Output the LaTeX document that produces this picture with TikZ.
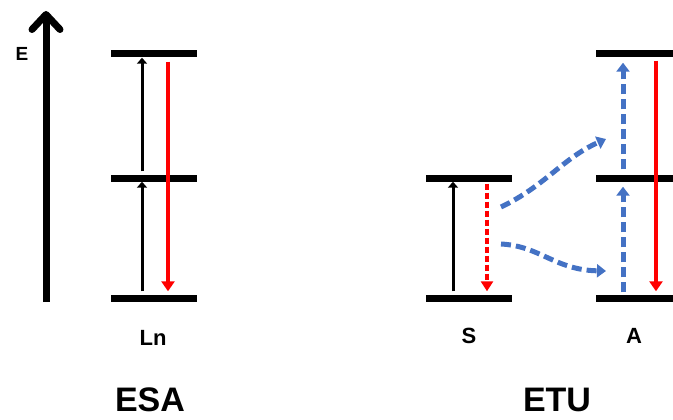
\documentclass[tikz,border=0pt]{standalone}
\usepackage{fontspec}
\setmainfont{Liberation Sans}
\usetikzlibrary{arrows.meta}
\definecolor{etublue}{RGB}{68,114,196}

\begin{document}
\begin{tikzpicture}[x=1pt,y=-1pt,
  level/.style={fill=black,inner sep=0pt,minimum width=86pt,minimum height=7pt},
  pump/.style={line width=3pt,-{Triangle[length=6pt,width=10pt]}},
  emit/.style={red,line width=4.5pt,-{Triangle[length=10pt,width=13pt]}},
  relax/.style={red,line width=3.5pt,dash pattern=on 6pt off 3pt,-{Triangle[length=10pt,width=12pt]}},
  transfer/.style={etublue,line width=5pt,dash pattern=on 10pt off 5pt,-{Triangle[length=9pt,width=13pt]}},
  lbl/.style={font=\bfseries\fontsize{22}{26}\selectfont},
  title/.style={font=\bfseries\fontsize{34}{38}\selectfont,inner sep=0pt}]
\useasboundingbox (0,0) rectangle (673,420);
% energy axis
\coordinate (ebot) at (46,302);
\coordinate (etop) at (46,11);
\draw[line width=7pt,-{Straight Barb[length=15pt,width=28pt,round]}] (ebot) -- (etop);
\node[font=\bfseries\fontsize{19}{22}\selectfont] (elab) at (22,54) {E};
% ESA
\node[level] (ln0) at (154,298) {};
\node[level] (ln1) at (154,178) {};
\node[level] (ln2) at (154,54) {};
\draw[pump,shorten <=3pt] ([xshift=-12pt]ln0.north) -- ([xshift=-12pt]ln1.south);
\draw[pump,shorten <=3pt] ([xshift=-12pt]ln1.north) -- ([xshift=-12pt]ln2.south);
\draw[emit,shorten <=4pt,shorten >=3pt] ([xshift=14pt]ln2.south) -- ([xshift=14pt]ln0.north);
\node[lbl] (lnlab) at (153,338) {Ln};
\node[title] (esa) at (150,400) {ESA};
% ETU
\node[level] (s0) at (469,298) {};
\node[level] (s1) at (469,178) {};
\node[level,minimum width=77pt] (a0) at (634.5,298) {};
\node[level,minimum width=77pt] (a1) at (634.5,178) {};
\node[level,minimum width=77pt] (a2) at (634.5,54) {};
\draw[pump,shorten <=3pt] ([xshift=-16pt]s0.north) -- ([xshift=-16pt]s1.south);
\draw[relax,shorten <=2pt,shorten >=3pt] ([xshift=18pt]s1.south) -- ([xshift=18pt]s0.north);
\draw[transfer,shorten <=2pt,shorten >=5pt] ([xshift=-11.5pt]a0.north) -- ([xshift=-11.5pt]a1.south);
\draw[transfer,shorten <=5pt,shorten >=5pt] ([xshift=-11.5pt]a1.north) -- ([xshift=-11.5pt]a2.south);
\draw[emit,shorten <=3pt,shorten >=3pt] ([xshift=21.5pt]a2.south) -- ([xshift=21.5pt]a0.north);
\coordinate (up0) at (501,207);
\coordinate (up1) at (606,139);
\coordinate (lo0) at (501,244);
\coordinate (lo1) at (606,271);
\draw[transfer] (up0) .. controls (545,186) and (563,158) .. (up1);
\draw[transfer] (lo0) .. controls (540,246) and (555,270) .. (lo1);
\node[lbl] (slab) at (469,336) {S};
\node[lbl] (alab) at (634,336) {A};
\node[title] (etu) at (557,400) {ETU};
\end{tikzpicture}
\end{document}
